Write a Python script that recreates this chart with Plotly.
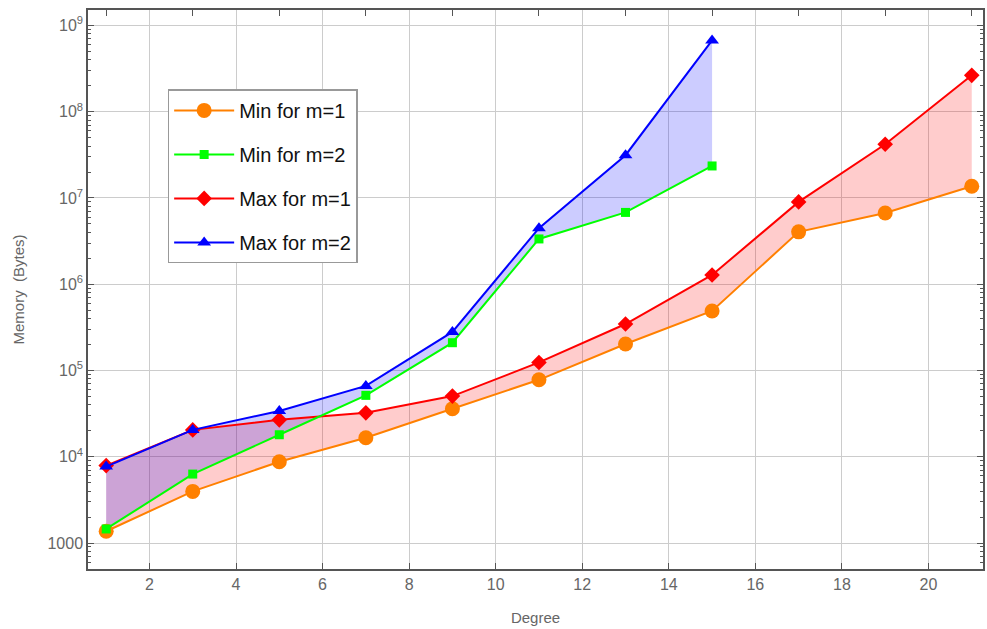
import plotly.graph_objects as go

degree_m1 = [1, 3, 5, 7, 9, 11, 13, 15, 17, 19, 21]
min_m1 = [1370, 3970, 8750, 16600, 36000, 78000, 203000, 490000, 4.05e6, 6.7e6, 1.37e7]
max_m1 = [7900, 20500, 26800, 32300, 50500, 124000, 346000, 1.28e6, 9.0e6, 4.2e7, 2.64e8]

degree_m2 = [1, 3, 5, 7, 9, 11, 13, 15]
min_m2 = [1456, 6300, 18000, 51500, 210000, 3.35e6, 6.8e6, 2.35e7]
max_m2 = [7700, 20500, 34000, 66300, 280000, 4.47e6, 3.13e7, 6.7e8]

y_tickvals = [1e3, 1e4, 1e5, 1e6, 1e7, 1e8, 1e9]
y_ticktext = ["1000", "10<sup>4</sup>", "10<sup>5</sup>", "10<sup>6</sup>",
              "10<sup>7</sup>", "10<sup>8</sup>", "10<sup>9</sup>"]
x_tickvals = [2, 4, 6, 8, 10, 12, 14, 16, 18, 20]
x_top_ticks = [1, 3, 5, 7, 9, 11, 13, 15, 17, 19, 21]

ORANGE = "#ff8000"
GREEN = "#00ff00"
RED = "#ff0000"
BLUE = "#0000ff"

fig = go.Figure()

# filled bands (no legend entries)
fig.add_trace(go.Scatter(x=degree_m1, y=min_m1, mode="lines", line=dict(width=0),
                         showlegend=False, hoverinfo="skip"))
fig.add_trace(go.Scatter(x=degree_m1, y=max_m1, mode="lines", line=dict(width=0),
                         fill="tonexty", fillcolor="rgba(255,0,0,0.2)",
                         showlegend=False, hoverinfo="skip"))
fig.add_trace(go.Scatter(x=degree_m2, y=min_m2, mode="lines", line=dict(width=0),
                         showlegend=False, hoverinfo="skip"))
fig.add_trace(go.Scatter(x=degree_m2, y=max_m2, mode="lines", line=dict(width=0),
                         fill="tonexty", fillcolor="rgba(0,0,255,0.2)",
                         showlegend=False, hoverinfo="skip"))

# line + marker traces
fig.add_trace(go.Scatter(x=degree_m1, y=min_m1, mode="lines+markers", name="Min for m=1",
                         line=dict(color=ORANGE, width=2),
                         marker=dict(symbol="circle", size=15, color=ORANGE),
                         legendgroup="a", legendrank=1))
fig.add_trace(go.Scatter(x=degree_m1, y=max_m1, mode="lines+markers", name="Max for m=1",
                         line=dict(color=RED, width=2),
                         marker=dict(symbol="diamond", size=12, color=RED),
                         legendgroup="c", legendrank=3))
fig.add_trace(go.Scatter(x=degree_m2, y=min_m2, mode="lines+markers", name="Min for m=2",
                         line=dict(color=GREEN, width=2),
                         marker=dict(symbol="square", size=9, color=GREEN),
                         legendgroup="b", legendrank=2))
fig.add_trace(go.Scatter(x=degree_m2, y=max_m2, mode="lines+markers", name="Max for m=2",
                         line=dict(color=BLUE, width=2),
                         marker=dict(symbol="triangle-up", size=12, color=BLUE),
                         legendgroup="d", legendrank=4))

minor_vals = [m * 10 ** k for k in range(2, 10) for m in range(2, 10)]

frame = "#555555"
tickfont = dict(family="Liberation Sans, Arial, sans-serif", size=16, color="#666666")

fig.update_layout(
    width=987, height=629,
    margin=dict(l=88, r=2, t=10, b=60),
    plot_bgcolor="white", paper_bgcolor="white",
    font=dict(family="Liberation Sans, Arial, sans-serif"),
    legend=dict(x=0.089, y=0.858, xanchor="left", yanchor="top",
                bgcolor="white", bordercolor="#999999", borderwidth=1.5,
                font=dict(size=20, color="#111111"), tracegroupgap=15,
                itemwidth=60),
    xaxis=dict(range=[0.58, 21.26], tickvals=x_tickvals, ticks="inside", ticklen=6,
               tickcolor=frame, showline=True, linecolor=frame, linewidth=1.5,
               showgrid=True, gridcolor="#cccccc", gridwidth=1, zeroline=False,
               tickfont=tickfont,
               title=dict(text="Degree", font=dict(size=15, color="#666666"), standoff=21)),
    xaxis2=dict(range=[0.58, 21.26], overlaying="x", side="top", tickvals=x_top_ticks,
                ticks="inside", ticklen=6, tickcolor=frame, showticklabels=False,
                showline=True, linecolor=frame, linewidth=1.5, showgrid=False,
                zeroline=False),
    yaxis=dict(type="log", range=[2.699, 9.179], tickvals=y_tickvals, ticktext=y_ticktext,
               ticks="inside", ticklen=6, tickcolor=frame, mirror="ticks",
               showline=True, linecolor=frame, linewidth=1.5,
               showgrid=True, gridcolor="#cccccc", gridwidth=1, zeroline=False,
               tickfont=tickfont,
               minor=dict(tickvals=minor_vals, ticks="inside", ticklen=3,
                          tickcolor=frame, showgrid=False),
               title=dict(text="Memory  (Bytes)", font=dict(size=15, color="#666666"),
                          standoff=19)),
)

# invisible trace so the top axis renders
fig.add_trace(go.Scatter(x=[1], y=[1000], xaxis="x2", mode="markers",
                         marker=dict(opacity=0), showlegend=False, hoverinfo="skip"))

fig.write_html("out.html")
